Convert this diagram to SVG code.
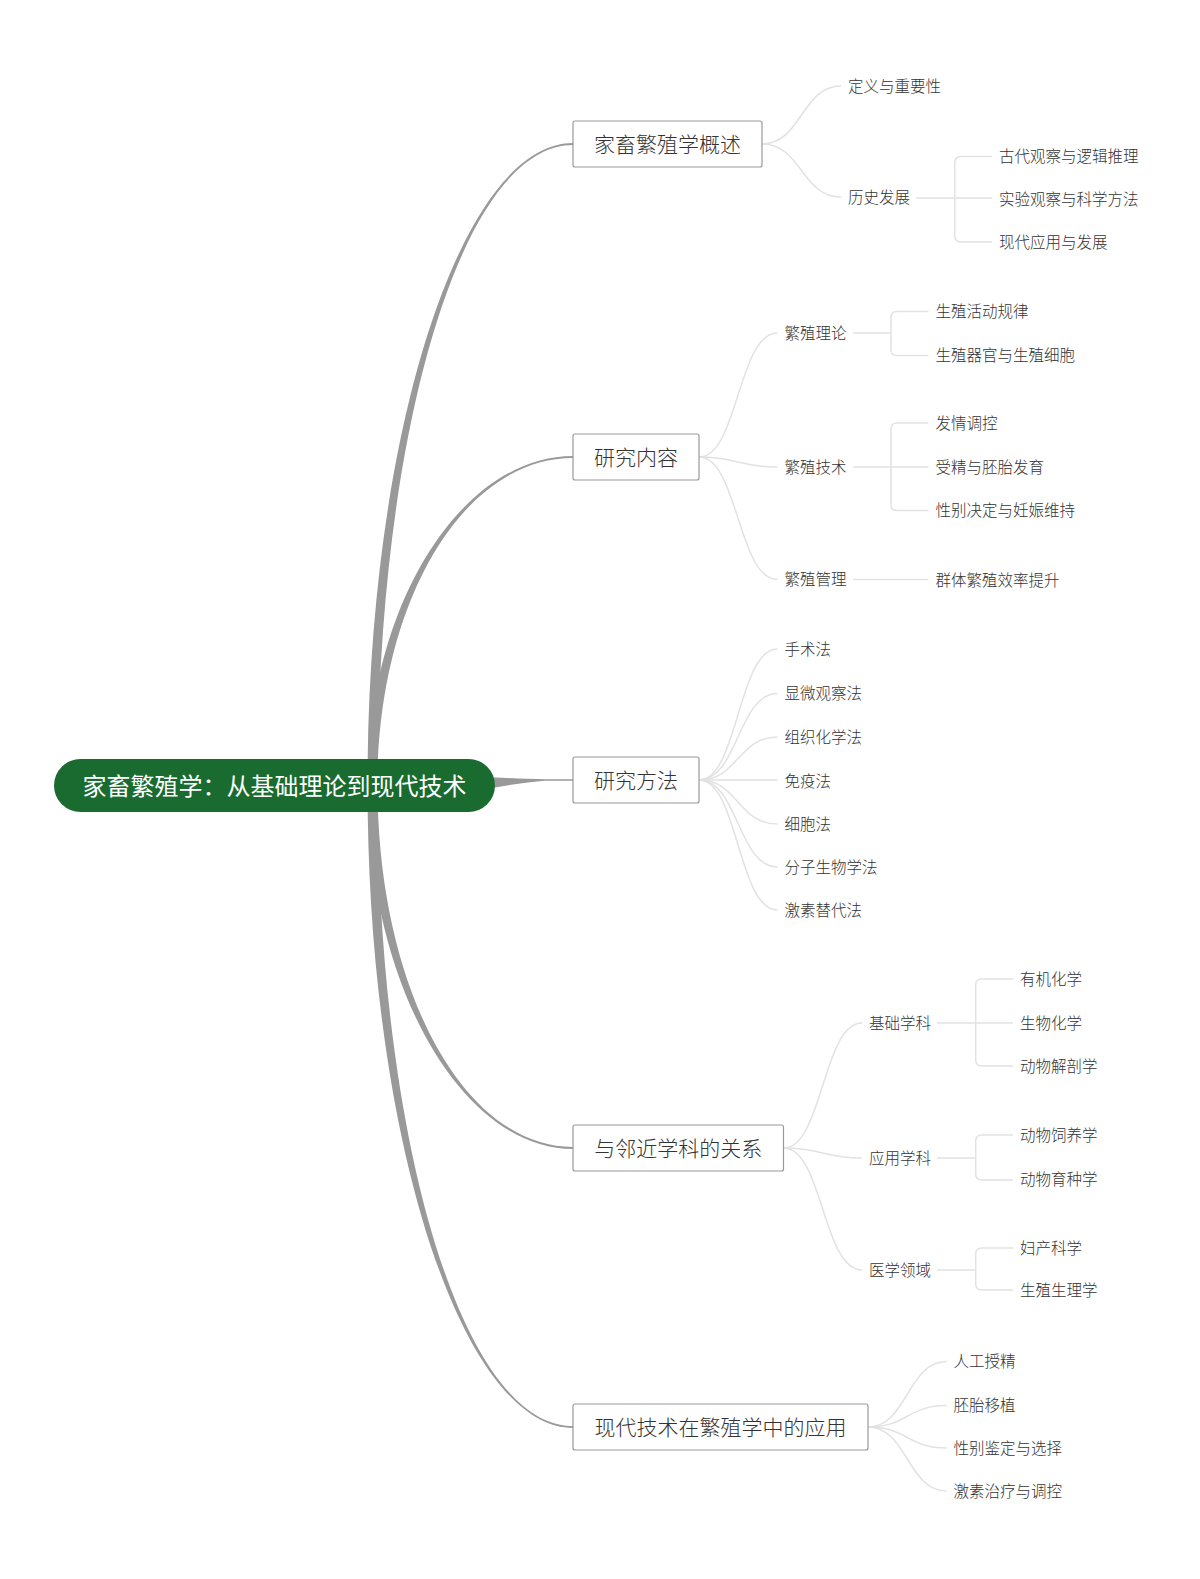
<svg xmlns="http://www.w3.org/2000/svg" width="1200" height="1579" viewBox="0 0 1200 1579">
<style>
  text { font-family: "Noto Sans CJK SC", "Noto Sans", sans-serif; dominant-baseline: central; }
  .root-text { font-size: 24px; fill: #ffffff; text-anchor: middle; }
  .box { fill: #ffffff; stroke: #9a9a9a; stroke-width: 1.2; }
  .box-text { font-size: 21px; fill: #333333; text-anchor: middle; font-weight: 300; }
  .leaf { font-size: 15.5px; fill: #333333; font-weight: 300; }
  .main { fill: #999999; stroke: none; }
  .sub { fill: none; stroke: #e2e2e2; stroke-width: 1.5; }
</style>
<rect x="0" y="0" width="1200" height="1579" fill="#ffffff"/>

<g id="connectors">
  <!-- main branches -->
  <path class="main" d="M 367.5 785 C 367.5 431, 462 143, 573 143 L 573 145 C 462 145, 377.5 431, 377.5 785 Z"/>
  <path class="main" d="M 367.5 785 C 367.5 604, 462 456, 573 456 L 573 458 C 462 458, 377.5 604, 377.5 785 Z"/>
  <path class="main" d="M 372 779 L 495 777.5 Q 525 779 545 779.3 H 573 V 780.7 H 545 Q 525 782 495 787.5 L 372 790 Z"/>
  <path class="main" d="M 367.5 785 C 367.5 985.5, 462 1149, 573 1149 L 573 1147 C 462 1147, 377.5 985.5, 377.5 785 Z"/>
  <path class="main" d="M 367.5 785 C 367.5 1139.6, 462 1428, 573 1428 L 573 1426 C 462 1426, 377.5 1139.6, 377.5 785 Z"/>

  <!-- branch 1 -->
  <path class="sub" d="M 762 144 C 801.5 144, 801.5 86, 841 86"/>
  <path class="sub" d="M 762 144 C 801.5 144, 801.5 197, 841 197"/>
  <path class="sub" d="M 916 198 H 992"/>
  <path class="sub" d="M 992 156.5 H 961 Q 954.7 156.5 954.7 163 V 235.5 Q 954.7 242 961 242 H 992"/>

  <!-- branch 2 -->
  <path class="sub" d="M 699 457 C 738 457, 738 333, 777.5 333"/>
  <path class="sub" d="M 699 457 C 738 457, 738 467, 777.5 467"/>
  <path class="sub" d="M 699 457 C 738 457, 738 579.5, 777.5 579.5"/>
  <path class="sub" d="M 853 333 H 891"/>
  <path class="sub" d="M 928.5 311.5 H 897 Q 891 311.5 891 317.5 V 349.5 Q 891 355.5 897 355.5 H 928.5"/>
  <path class="sub" d="M 853 467 H 928.5"/>
  <path class="sub" d="M 928.5 423 H 897 Q 891 423 891 429 V 504.5 Q 891 510.5 897 510.5 H 928.5"/>
  <path class="sub" d="M 853 579.5 H 928.5"/>

  <!-- branch 3 -->
  <path class="sub" d="M 699 780 C 738 780, 738 649, 777.5 649"/>
  <path class="sub" d="M 699 780 C 738 780, 738 693.5, 777.5 693.5"/>
  <path class="sub" d="M 699 780 C 738 780, 738 737, 777.5 737"/>
  <path class="sub" d="M 699 780 H 777.5"/>
  <path class="sub" d="M 699 780 C 738 780, 738 824, 777.5 824"/>
  <path class="sub" d="M 699 780 C 738 780, 738 867, 777.5 867"/>
  <path class="sub" d="M 699 780 C 738 780, 738 910, 777.5 910"/>

  <!-- branch 4 -->
  <path class="sub" d="M 783.5 1148 C 822.7 1148, 822.7 1023, 862 1023"/>
  <path class="sub" d="M 783.5 1148 C 822.7 1148, 822.7 1158, 862 1158"/>
  <path class="sub" d="M 783.5 1148 C 822.7 1148, 822.7 1270, 862 1270"/>
  <path class="sub" d="M 937 1023 H 1013"/>
  <path class="sub" d="M 1013 979 H 982 Q 975.7 979 975.7 985 V 1060 Q 975.7 1066 982 1066 H 1013"/>
  <path class="sub" d="M 937 1158 H 975.7"/>
  <path class="sub" d="M 1013 1135 H 982 Q 975.7 1135 975.7 1141 V 1174 Q 975.7 1180 982 1180 H 1013"/>
  <path class="sub" d="M 937 1270 H 975.7"/>
  <path class="sub" d="M 1013 1248 H 982 Q 975.7 1248 975.7 1254 V 1284 Q 975.7 1290 982 1290 H 1013"/>

  <!-- branch 5 -->
  <path class="sub" d="M 868 1427 C 907.3 1427, 907.3 1361.5, 946.6 1361.5"/>
  <path class="sub" d="M 868 1427 C 907.3 1427, 907.3 1405.5, 946.6 1405.5"/>
  <path class="sub" d="M 868 1427 C 907.3 1427, 907.3 1448, 946.6 1448"/>
  <path class="sub" d="M 868 1427 C 907.3 1427, 907.3 1491, 946.6 1491"/>
</g>

<g id="root">
  <rect x="54" y="759" width="441" height="53" rx="26.5" fill="#1a6b2f"/>
  <text class="root-text" x="274.5" y="784">家畜繁殖学：从基础理论到现代技术</text>
</g>

<g id="n-overview">
  <rect class="box" x="573" y="121" width="189" height="46" rx="2"/>
  <text class="box-text" x="667.5" y="142.5">家畜繁殖学概述</text>
</g>
<g id="n-overview-children">
  <text class="leaf" x="848" y="84.5">定义与重要性</text>
  <text class="leaf" x="848" y="195.5">历史发展</text>
  <text class="leaf" x="999" y="155">古代观察与逻辑推理</text>
  <text class="leaf" x="999" y="197.5">实验观察与科学方法</text>
  <text class="leaf" x="999" y="240.5">现代应用与发展</text>
</g>

<g id="n-content">
  <rect class="box" x="573" y="434" width="126" height="46" rx="2"/>
  <text class="box-text" x="636" y="455.5">研究内容</text>
</g>
<g id="n-content-children">
  <text class="leaf" x="784.5" y="331.5">繁殖理论</text>
  <text class="leaf" x="784.5" y="465.5">繁殖技术</text>
  <text class="leaf" x="784.5" y="578">繁殖管理</text>
  <text class="leaf" x="935.5" y="310">生殖活动规律</text>
  <text class="leaf" x="935.5" y="354">生殖器官与生殖细胞</text>
  <text class="leaf" x="935.5" y="421.5">发情调控</text>
  <text class="leaf" x="935.5" y="465.5">受精与胚胎发育</text>
  <text class="leaf" x="935.5" y="509">性别决定与妊娠维持</text>
  <text class="leaf" x="935.5" y="578.5">群体繁殖效率提升</text>
</g>

<g id="n-methods">
  <rect class="box" x="573" y="757" width="126" height="46" rx="2"/>
  <text class="box-text" x="636" y="778.5">研究方法</text>
</g>
<g id="n-methods-children">
  <text class="leaf" x="784.5" y="647.5">手术法</text>
  <text class="leaf" x="784.5" y="692">显微观察法</text>
  <text class="leaf" x="784.5" y="735.5">组织化学法</text>
  <text class="leaf" x="784.5" y="779.5">免疫法</text>
  <text class="leaf" x="784.5" y="822.5">细胞法</text>
  <text class="leaf" x="784.5" y="865.5">分子生物学法</text>
  <text class="leaf" x="784.5" y="908.5">激素替代法</text>
</g>

<g id="n-relations">
  <rect class="box" x="573" y="1125" width="210.5" height="46" rx="2"/>
  <text class="box-text" x="678.2" y="1146.5">与邻近学科的关系</text>
</g>
<g id="n-relations-children">
  <text class="leaf" x="869" y="1021.5">基础学科</text>
  <text class="leaf" x="869" y="1156.5">应用学科</text>
  <text class="leaf" x="869" y="1268.5">医学领域</text>
  <text class="leaf" x="1020" y="977.5">有机化学</text>
  <text class="leaf" x="1020" y="1021.5">生物化学</text>
  <text class="leaf" x="1020" y="1064.5">动物解剖学</text>
  <text class="leaf" x="1020" y="1133.5">动物饲养学</text>
  <text class="leaf" x="1020" y="1178">动物育种学</text>
  <text class="leaf" x="1020" y="1246.5">妇产科学</text>
  <text class="leaf" x="1020" y="1289">生殖生理学</text>
</g>

<g id="n-modern">
  <rect class="box" x="573" y="1404" width="295" height="46" rx="2"/>
  <text class="box-text" x="720.5" y="1425.5">现代技术在繁殖学中的应用</text>
</g>
<g id="n-modern-children">
  <text class="leaf" x="953.6" y="1360">人工授精</text>
  <text class="leaf" x="953.6" y="1404">胚胎移植</text>
  <text class="leaf" x="953.6" y="1446.5">性别鉴定与选择</text>
  <text class="leaf" x="953.6" y="1489.5">激素治疗与调控</text>
</g>
</svg>
